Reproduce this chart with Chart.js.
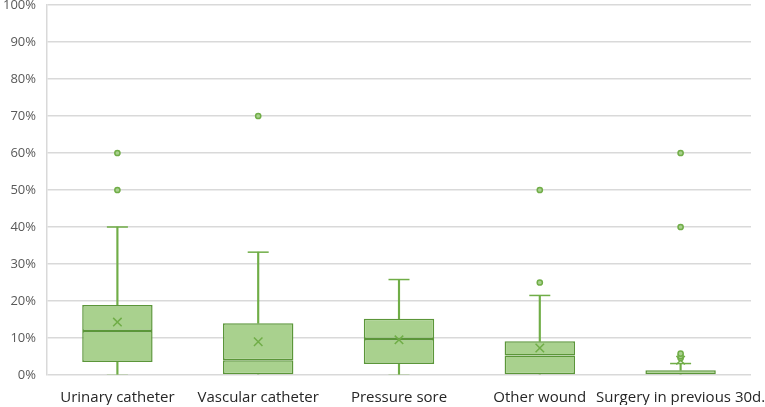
<!DOCTYPE html>
<html>
<head>
<meta charset="utf-8">
<script src="https://cdn.jsdelivr.net/npm/chart.js@4/dist/chart.umd.min.js"></script>
<style>
    html, body { margin: 0; padding: 0; background: #fff; }
    #wrap { width: 765px; height: 407px; }
    canvas { display: block; }
</style>
</head>
<body>
<div id="wrap"><canvas id="boxChart"></canvas></div>
<script>
// Categorias e estatísticas de cada caixa (valores em %)
const categorias = ['Urinary catheter', 'Vascular catheter', 'Pressure sore', 'Other wound', 'Surgery in previous 30d.'];
const minimos  = [0, 0, 0, 0, 0];
const q1       = [3.5, 0, 3.0, 0, 0];
const medianas = [11.9, 4.0, 9.7, 5.3, 0];
const q3       = [18.9, 14.0, 15.2, 9.1, 1.3];
const maximos  = [40, 33.2, 25.8, 21.5, 3.1];
const medias   = [14.3, 9.0, 9.5, 7.3, 4.0];
const outliers = [
    [50, 60],
    [70],
    [],
    [25, 50],
    [4.6, 5.1, 5.8, 40, 60]
];
const ticksY = [0, 10, 20, 30, 40, 50, 60, 70, 80, 90, 100];

const VERDE_CLARO = '#a9d18e';
const VERDE = '#70ad47';
const VERDE_ESCURO = '#5b9639';

const pontosOutliers = [];
outliers.forEach((lista, i) => {
    lista.forEach(v => pontosOutliers.push({ x: categorias[i], y: v }));
});

const capsSuperiores = maximos.map((v, i) => ({ x: categorias[i], y: v }));
const capsInferiores = [];
minimos.forEach((v, i) => {
    if (q1[i] > v) capsInferiores.push({ x: categorias[i], y: v });
});

const FONTE = 'Open Sans, Liberation Sans, sans-serif';

const config = {
    type: 'bar',
    data: {
        labels: categorias,
        datasets: [
            {
                // bigode superior
                data: q3.map((v, i) => [v, maximos[i]]),
                backgroundColor: VERDE,
                barThickness: 1.5,
                grouped: false,
                order: 5
            },
            {
                // bigode inferior
                data: q1.map((v, i) => [minimos[i], v]),
                backgroundColor: VERDE,
                barThickness: 1.5,
                grouped: false,
                order: 5
            },
            {
                // caixa Q1 - mediana
                data: q1.map((v, i) => [v, medianas[i]]),
                backgroundColor: VERDE_CLARO,
                borderColor: VERDE_ESCURO,
                borderWidth: 1.5,
                borderSkipped: false,
                categoryPercentage: 1,
                barPercentage: 0.5,
                grouped: false,
                order: 4
            },
            {
                // caixa mediana - Q3
                data: medianas.map((v, i) => [v, q3[i]]),
                backgroundColor: VERDE_CLARO,
                borderColor: VERDE_ESCURO,
                borderWidth: 1.5,
                borderSkipped: false,
                categoryPercentage: 1,
                barPercentage: 0.5,
                grouped: false,
                order: 4
            },
            {
                type: 'line',
                data: capsSuperiores,
                showLine: false,
                pointStyle: 'line',
                pointRadius: 10.5,
                borderColor: VERDE,
                borderWidth: 1.5,
                order: 3
            },
            {
                type: 'line',
                data: capsInferiores,
                showLine: false,
                pointStyle: 'line',
                pointRadius: 10.5,
                borderColor: 'rgba(112, 173, 71, 0.3)',
                borderWidth: 1.5,
                order: 3
            },
            {
                type: 'line',
                data: medias.map((v, i) => ({ x: categorias[i], y: v })),
                showLine: false,
                pointStyle: 'crossRot',
                pointRadius: 6,
                borderColor: VERDE,
                borderWidth: 1.5,
                order: 2
            },
            {
                type: 'line',
                data: pontosOutliers,
                showLine: false,
                pointStyle: 'circle',
                pointRadius: 2.6,
                backgroundColor: VERDE_CLARO,
                borderColor: VERDE,
                borderWidth: 1.5,
                order: 1
            }
        ]
    },
    options: {
        responsive: true,
        maintainAspectRatio: false,
        animation: false,
        layout: {
            autoPadding: false,
            padding: { top: 5, right: 14, left: 0, bottom: 2 }
        },
        plugins: {
            legend: { display: false },
            tooltip: { enabled: false }
        },
        scales: {
            x: {
                grid: { display: false, drawTicks: false },
                border: { display: false },
                ticks: {
                    color: '#262626',
                    font: { family: FONTE, size: 15, lineHeight: 1 },
                    maxRotation: 0,
                    autoSkip: false,
                    padding: 15
                },
                afterFit: (axis) => {
                    axis.paddingLeft = 0;
                    axis.paddingRight = 0;
                    axis.height = 30;
                }
            },
            y: {
                min: 0,
                max: 100,
                afterBuildTicks: (axis) => {
                    axis.ticks = ticksY.map(v => ({ value: v }));
                },
                grid: { color: '#d9d9d9', lineWidth: 1.5, drawTicks: false },
                border: { display: true, color: '#d9d9d9', width: 1.5 },
                ticks: {
                    color: '#595959',
                    font: { family: FONTE, size: 13, lineHeight: 1 },
                    padding: 11,
                    callback: (v) => v + '%'
                },
                afterFit: (axis) => {
                    axis.paddingTop = 0;
                    axis.paddingBottom = 0;
                    axis.width = 47;
                }
            }
        }
    }
};

document.addEventListener('DOMContentLoaded', () => {
    const canvas = document.getElementById('boxChart');
    new Chart(canvas, config);
});
</script>
</body>
</html>
